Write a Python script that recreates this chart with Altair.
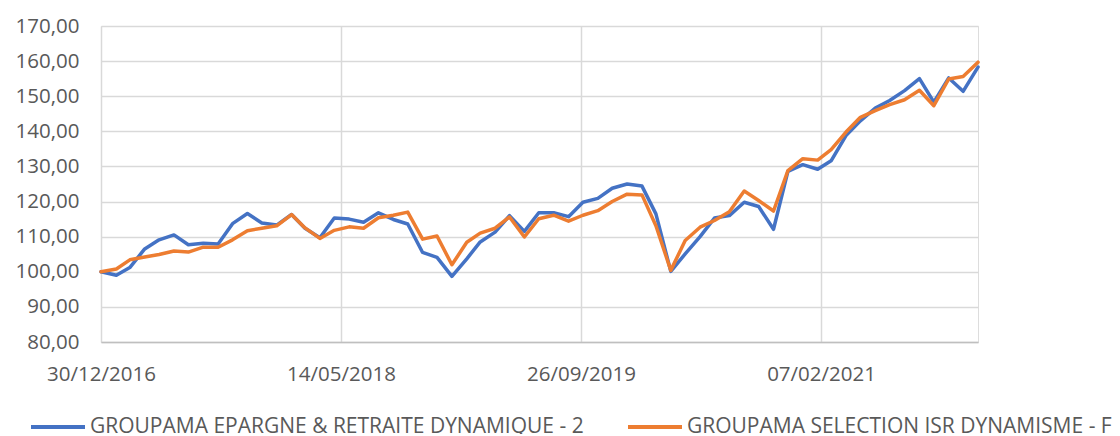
import calendar
import pandas as pd
import altair as alt

# ---- data ----
dates = ["2016-12-30"]
for yr in range(2017, 2022):
    for mo in range(1, 13):
        dates.append(f"{yr}-{mo:02d}-{calendar.monthrange(yr, mo)[1]:02d}")

series_names = [
    "GROUPAMA EPARGNE & RETRAITE DYNAMIQUE - 2",
    "GROUPAMA SELECTION ISR DYNAMISME - F",
]

blue_values = [
    100.0, 99.0, 101.2, 106.5, 109.1, 110.5, 107.7, 108.1, 107.9, 113.7,
    116.6, 113.9, 113.3, 116.3, 112.4, 109.7, 115.3, 115.0, 114.1, 116.8,
    114.9, 113.6, 105.5, 104.1, 98.7, 103.7, 108.5, 111.3, 116.0, 111.5,
    116.8, 116.8, 115.7, 119.8, 120.9, 123.8, 125.0, 124.4, 116.5, 100.1,
    105.1, 110.0, 115.3, 116.0, 119.8, 118.6, 112.1, 128.6, 130.5, 129.2,
    131.6, 138.8, 143.0, 146.6, 148.8, 151.6, 155.0, 148.3, 155.2, 151.4,
    158.3,
]

orange_values = [
    100.0, 100.8, 103.4, 104.2, 104.9, 105.9, 105.6, 107.0, 107.0, 109.1,
    111.7, 112.4, 113.1, 116.3, 112.5, 109.5, 111.8, 112.8, 112.4, 115.4,
    116.1, 117.0, 109.3, 110.2, 102.0, 108.4, 111.0, 112.4, 115.6, 109.9,
    115.1, 116.1, 114.4, 116.1, 117.4, 120.0, 122.1, 121.9, 113.1, 100.4,
    108.9, 112.7, 114.6, 117.1, 123.0, 120.3, 117.3, 128.8, 132.2, 131.8,
    134.8, 139.8, 144.0, 145.9, 147.6, 149.0, 151.7, 147.3, 154.9, 155.6,
    159.7,
]

x_tick_dates = [(2016, 12, 30), (2018, 5, 14), (2019, 9, 26), (2021, 2, 7)]
y_ticks = [80, 90, 100, 110, 120, 130, 140, 150, 160, 170]
colors = ["#4472C4", "#ED7D31"]

rows = []
for name, vals in zip(series_names, [blue_values, orange_values]):
    for d, v in zip(dates, vals):
        rows.append({"date": d, "value": v, "series": name})
df = pd.DataFrame(rows)

FONT = "Open Sans"
TEXT = "#595959"

chart = (
    alt.Chart(df)
    .mark_line(strokeWidth=3.5, strokeJoin="round", strokeCap="round")
    .encode(
        x=alt.X(
            "date:T",
            scale=alt.Scale(type="utc", domain=["2016-12-30", "2021-12-31"], nice=False),
            axis=alt.Axis(
                title=None,
                values=[alt.DateTime(year=y, month=m, date=d, utc=True) for y, m, d in x_tick_dates],
                labelExpr="utcFormat(datum.value, '%d/%m/%Y')",
                grid=True,
                gridColor="#d9d9d9",
                gridWidth=1.5,
                ticks=False,
                domainColor="#bfbfbf",
                domainWidth=1.5,
                labelFont=FONT,
                labelFontSize=20.5,
                labelColor=TEXT,
                labelPadding=22,
                labelFlush=False,
            ),
        ),
        y=alt.Y(
            "value:Q",
            scale=alt.Scale(domain=[80, 170], nice=False, zero=False),
            axis=alt.Axis(
                title=None,
                values=y_ticks,
                labelExpr="replace(format(datum.value, '.2f'), '.', ',')",
                grid=True,
                gridColor="#d9d9d9",
                gridWidth=1.5,
                ticks=False,
                domain=False,
                labelFont=FONT,
                labelFontSize=20.5,
                labelColor=TEXT,
                labelPadding=22,
            ),
        ),
        color=alt.Color(
            "series:N",
            scale=alt.Scale(domain=series_names, range=colors),
            sort=series_names,
            legend=alt.Legend(
                title=None,
                orient="none",
                direction="horizontal",
                legendX=-72,
                legendY=372,
                symbolType="stroke",
                symbolSize=2916,
                symbolStrokeWidth=4,
                labelFont=FONT,
                labelFontSize=21,
                labelColor=TEXT,
                labelOffset=3,
                columnPadding=36,
                labelLimit=0,
                padding=0,
            ),
        ),
        order=alt.Order("series:N"),
    )
    .properties(
        width=877,
        height=316,
        autosize=alt.AutoSizeParams(type="none"),
        padding={"left": 93, "top": 18, "right": 134, "bottom": 92},
    )
    .configure_view(stroke=None)
    .configure(background="white")
)

chart.save("out.html", embed_options={"renderer": "svg", "actions": False})
